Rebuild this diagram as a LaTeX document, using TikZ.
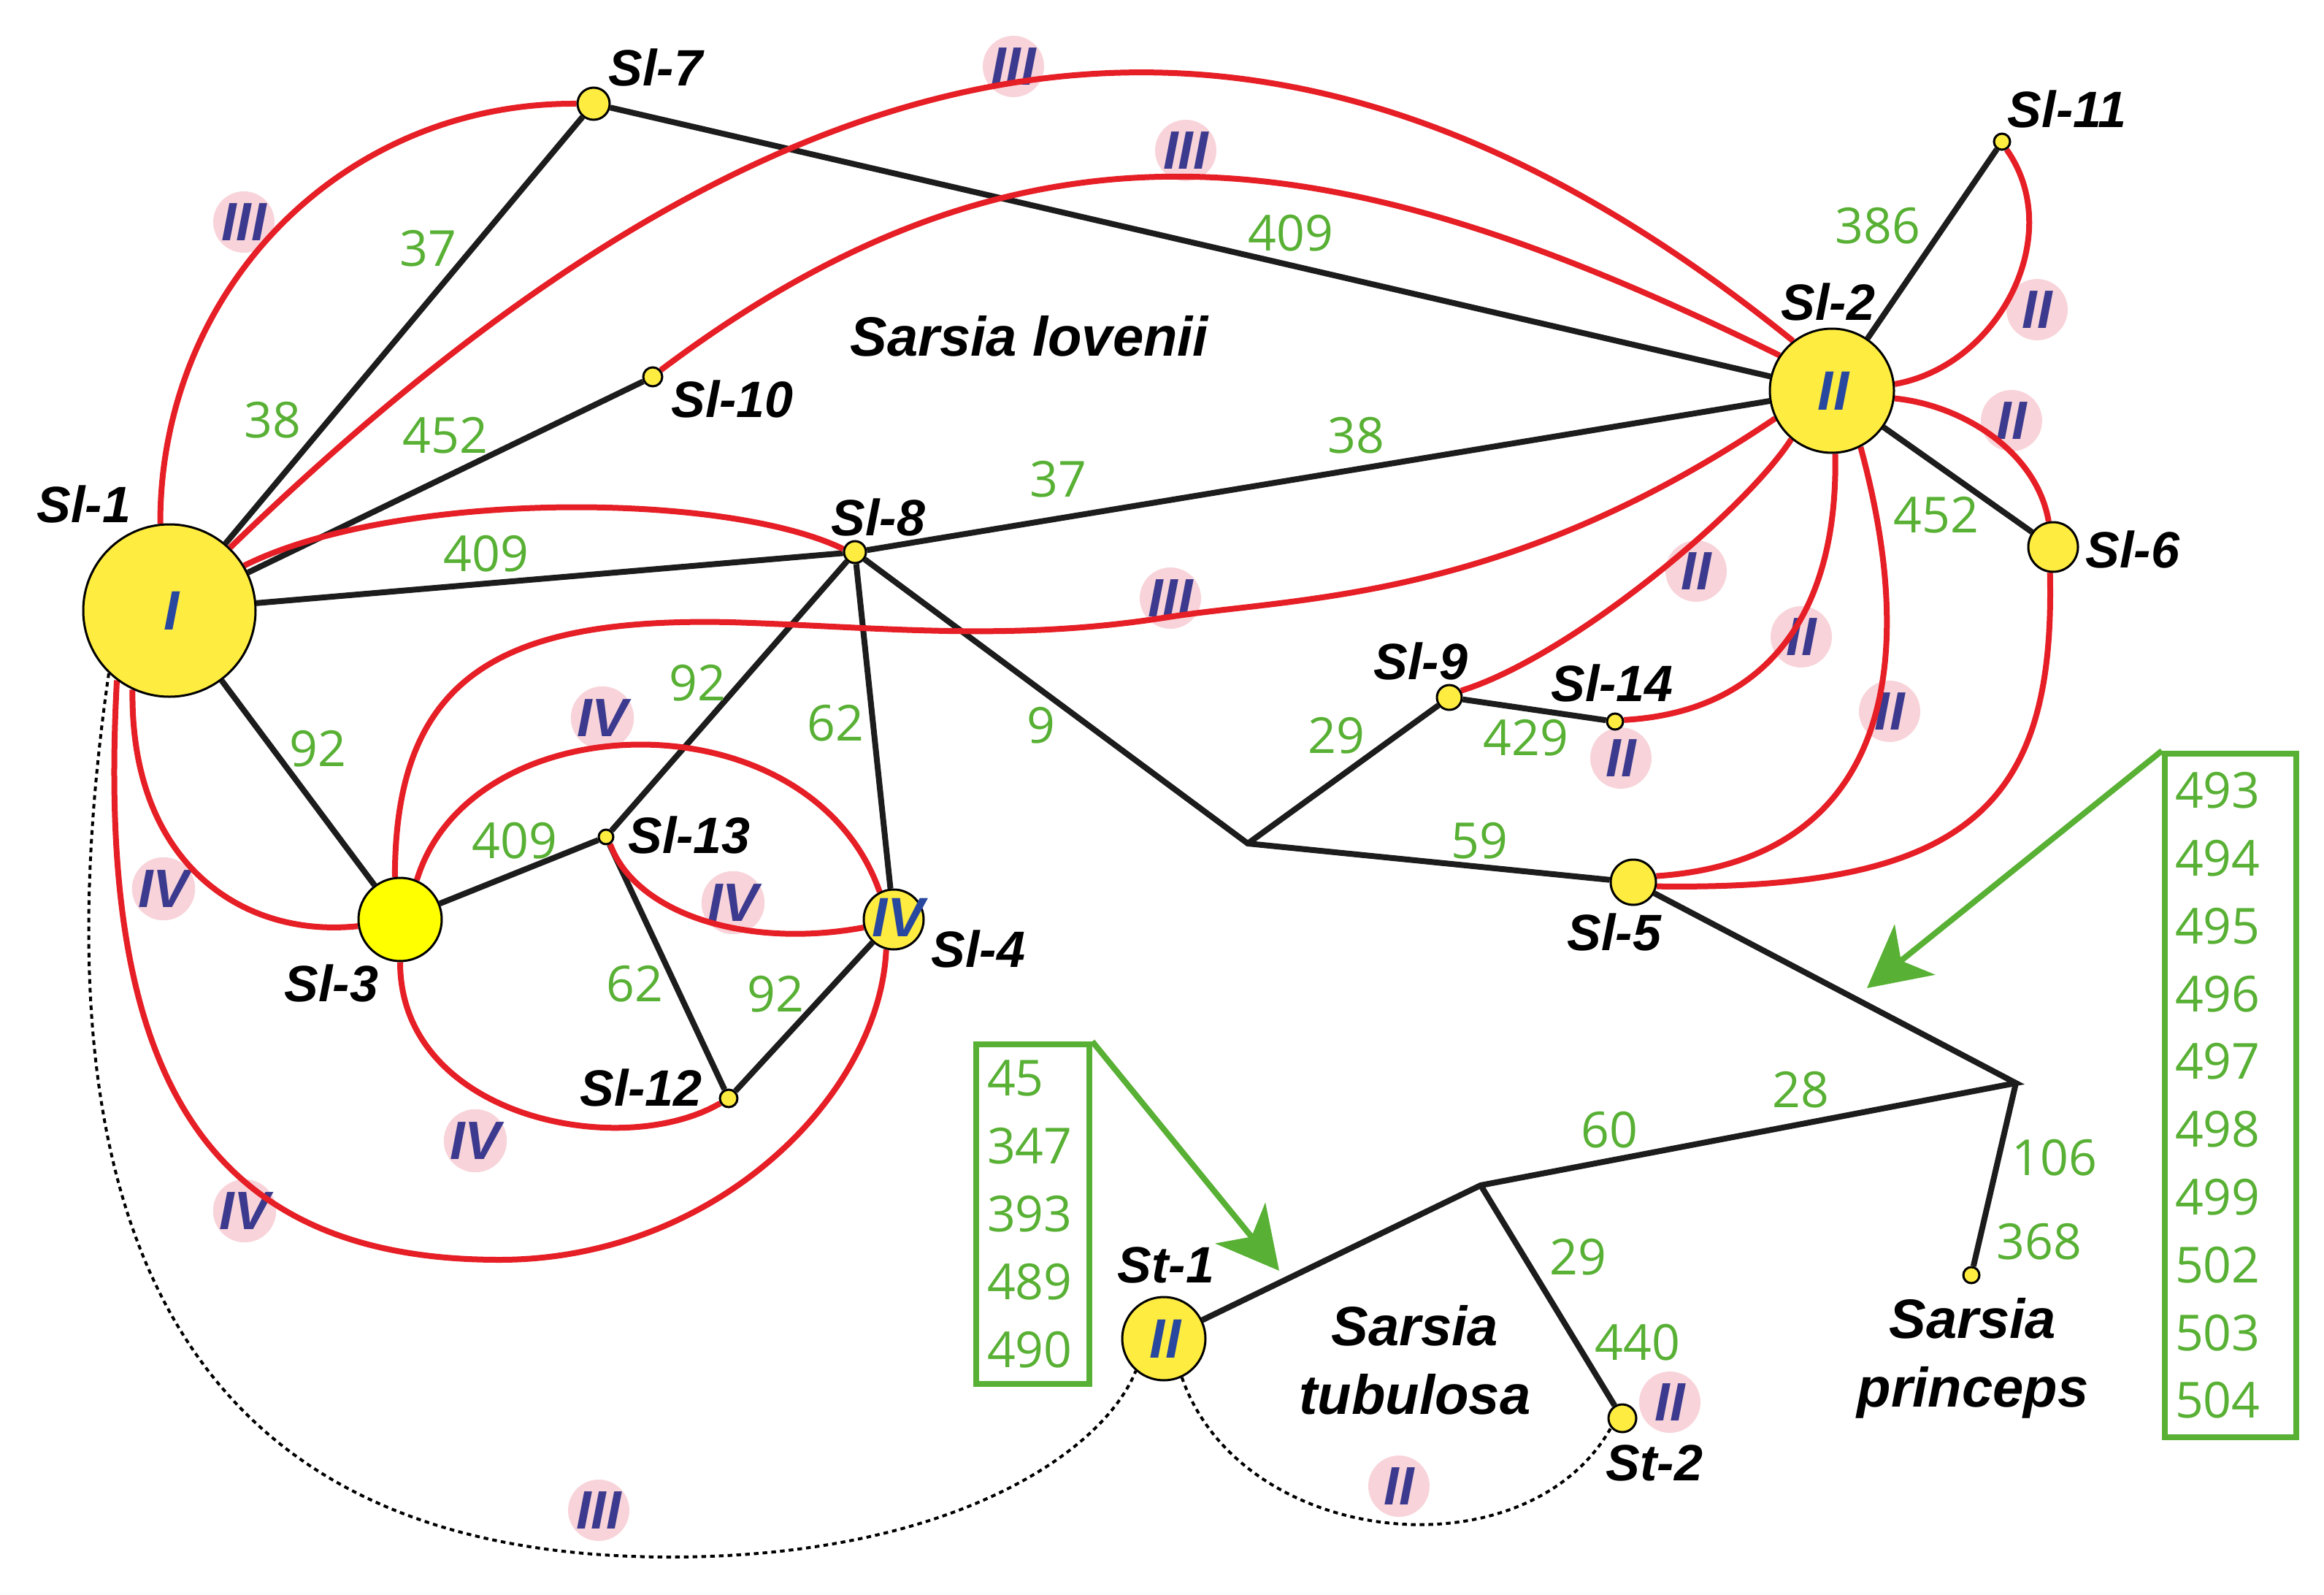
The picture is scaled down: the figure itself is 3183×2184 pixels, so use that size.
\documentclass[tikz,border=0pt]{standalone}
\usepackage{fontspec}
\setmainfont{Liberation Sans}
\newfontfamily\numfont{Open Sans}
\usetikzlibrary{arrows.meta}
\definecolor{nodeyellow}{RGB}{255,236,64}
\definecolor{brightyellow}{RGB}{255,255,0}
\definecolor{redc}{RGB}{230,30,38}
\definecolor{numgreen}{RGB}{88,176,52}
\definecolor{pinkc}{RGB}{248,212,218}
\definecolor{romblue}{RGB}{60,58,142}
\definecolor{inblue}{RGB}{40,72,160}
\definecolor{edgeblack}{RGB}{28,28,28}
\pgfdeclarelayer{pinklayer}
\pgfdeclarelayer{edgelayer}
\pgfsetlayers{pinklayer,edgelayer,main}
\begin{document}
\begin{tikzpicture}[x=0.25pt,y=-0.25pt,
  vtx/.style={circle,draw=black,line width=0.75pt,fill=nodeyellow,inner sep=0pt},
  nm/.style={font=\fontsize{17.5}{20}\selectfont\bfseries\itshape,inner sep=0pt},
  spname/.style={font=\fontsize{19}{23.5}\selectfont\bfseries\itshape,align=center,inner sep=0pt},
  num/.style={text=numgreen,font=\numfont\fontsize{17}{20}\selectfont,inner sep=0pt},
  rom/.style={circle,fill=pinkc,text=romblue,font=\fontsize{18.5}{20}\selectfont\bfseries\itshape,inner sep=0pt,minimum size=21pt},
  inrom/.style={text=inblue,font=\fontsize{19}{20}\selectfont\bfseries\itshape,inner sep=0pt},
  blk/.style={draw=edgeblack,line width=2pt,line join=miter},
  rc/.style={draw=redc,line width=2pt},
  dt/.style={draw=black,line width=1pt,dash pattern=on 1.6pt off 1.4pt},
  gbox/.style={draw=numgreen,line width=2pt,inner sep=0pt,text=numgreen,font=\numfont\fontsize{17}{23.2}\selectfont,align=left},
  garrow/.style={draw=numgreen,line width=2pt,-{Stealth[length=21pt,width=22pt,inset=6pt]}}
]
\useasboundingbox (0,0) rectangle (3183,2184);

% ---------- vertices ----------
\node[vtx,minimum size=59pt] (sl1) at (232,836) {};
\node[vtx,minimum size=42.5pt] (sl2) at (2509,535) {};
\node[vtx,minimum size=28.5pt,fill=brightyellow] (sl3) at (548,1259) {};
\node[vtx,minimum size=20.5pt] (sl4) at (1224,1259) {};
\node[vtx,minimum size=15.5pt] (sl5) at (2237,1208) {};
\node[vtx,minimum size=17pt] (sl6) at (2812,749) {};
\node[vtx,minimum size=11pt] (sl7) at (813,142) {};
\node[vtx,minimum size=7.5pt] (sl8) at (1171,756) {};
\node[vtx,minimum size=8.5pt] (sl9) at (1985,955) {};
\node[vtx,minimum size=6.5pt] (sl10) at (894,516) {};
\node[vtx,minimum size=5.5pt] (sl11) at (2742,194) {};
\node[vtx,minimum size=6pt] (sl12) at (998,1504) {};
\node[vtx,minimum size=5pt] (sl13) at (830,1146) {};
\node[vtx,minimum size=5.5pt] (sl14) at (2212,988) {};
\node[vtx,minimum size=28.5pt] (st1) at (1594,1833) {};
\node[vtx,minimum size=9.5pt] (st2) at (2222,1942) {};
\node[vtx,minimum size=5.5pt] (sp) at (2700,1746) {};
\coordinate (j1) at (1709,1155);
\coordinate (j2) at (2761,1483);
\coordinate (j3) at (2028,1623);

% numerals inside vertices
\node[inrom] (t1) at (235,836) {I};
\node[inrom] (t2) at (2511,535) {II};
\node[inrom] (t4) at (1230,1256) {IV};
\node[inrom] (t5) at (1596,1833) {II};

% ---------- connectors ----------
\begin{pgfonlayer}{edgelayer}
\draw[blk] (sl1) -- (sl7);
\draw[blk] (sl7) -- (sl2);
\draw[blk] (sl1) -- (sl10);
\draw[blk] (sl1) -- (sl8);
\draw[blk] (sl8) -- (sl2);
\draw[blk] (sl1) -- (sl3);
\draw[blk] (sl3) -- (sl13);
\draw[blk] (sl13) -- (sl8);
\draw[blk] (sl8) -- (sl4);
\draw[blk] (sl13) -- (sl12);
\draw[blk] (sl12) -- (sl4);
\draw[blk] (sl8) -- (j1) -- (sl5);
\draw[blk] (j1) -- (sl9);
\draw[blk] (sl9) -- (sl14);
\draw[blk] (sl5) -- (j2) -- (j3) -- (st1);
\draw[blk] (j3) -- (st2);
\draw[blk] (j2) -- (sp);
\draw[blk] (sl2) -- (sl11);
\draw[blk] (sl2) -- (sl6);

\draw[rc] (sl1.96) .. controls (219,395) and (470,140) .. (sl7.west);
\draw[rc] (sl1.46) .. controls (1107,-16) and (1755,-100) .. (sl2.128);
\draw[rc] (sl10.40) .. controls (1423,117) and (1849,198) .. (sl2.146);
\draw[rc] (sl1.31) .. controls (540,672) and (990,672) .. (sl8.165);
\draw[rc] (sl3.97) .. controls (541,930) and (680,845) .. (1000,852)
   .. controls (1200,858) and (1380,880) .. (1600,845)
   .. controls (1778,817) and (2060,824) .. (sl2.206);
\draw[rc] (sl1.245) .. controls (178,1180) and (330,1285) .. (sl3.189);
\draw[rc] (sl1.233) .. controls (132,1450) and (265,1725) .. (684,1725)
   .. controls (980,1725) and (1205,1500) .. (sl4.256);
\draw[rc] (sl3.67) .. controls (645,960) and (1110,950) .. (sl4.117);
\draw[rc] (sl13.300) .. controls (870,1250) and (1020,1300) .. (sl4.195);
\draw[rc] (sl3.270) .. controls (548,1530) and (850,1590) .. (sl12.210);
\draw[rc] (sl2.6) .. controls (2740,500) and (2830,320) .. (sl11.300);
\draw[rc] (sl2.353) .. controls (2690,555) and (2790,620) .. (sl6.100);
\draw[rc] (sl6.263) .. controls (2815,1100) and (2700,1220) .. (sl5.350);
\draw[rc] (sl2.297) .. controls (2640,950) and (2560,1180) .. (sl5.15);
\draw[rc] (sl2.273) .. controls (2518,840) and (2420,975) .. (sl14.10);
\draw[rc] (sl2.230) .. controls (2390,700) and (2150,900) .. (sl9.30);

\draw[dt] (sl1.226) .. controls (30,1750) and (300,2132) .. (918,2132)
   .. controls (1300,2132) and (1510,1990) .. (st1.229);
\draw[dt] (st1.295) .. controls (1700,2120) and (2090,2160) .. (st2.220);
\end{pgfonlayer}

% ---------- pink roman labels ----------
\begin{pgfonlayer}{pinklayer}
\node[rom] (p1) at (334,304) {III};
\node[rom] (p2) at (1388,91) {III};
\node[rom] (p3) at (1624,206) {III};
\node[rom] (p4) at (1603,819) {III};
\node[rom] (p5) at (2790,424) {II};
\node[rom] (p6) at (2755,576) {II};
\node[rom] (p7) at (2323,782) {II};
\node[rom] (p8) at (2467,872) {II};
\node[rom] (p9) at (2588,974) {II};
\node[rom] (p10) at (2220,1038) {II};
\node[rom] (p11) at (825,983) {IV};
\node[rom] (p12) at (1004,1236) {IV};
\node[rom] (p13) at (224,1217) {IV};
\node[rom] (p14) at (651,1562) {IV};
\node[rom] (p15) at (335,1658) {IV};
\node[rom] (p16) at (820,2068) {III};
\node[rom] (p17) at (2287,1920) {II};
\node[rom] (p18) at (1916,2035) {II};
\end{pgfonlayer}

% ---------- vertex names ----------
\node[nm] (l1) at (115,690) {Sl-1};
\node[nm] (l2) at (2504,413) {Sl-2};
\node[nm] (l3) at (454,1346) {Sl-3};
\node[nm] (l4) at (1340,1299) {Sl-4};
\node[nm] (l5) at (2211,1276) {Sl-5};
\node[nm] (l6) at (2921,752) {Sl-6};
\node[nm] (l7) at (898,92) {Sl-7};
\node[nm] (l8) at (1203,708) {Sl-8};
\node[nm] (l9) at (1946,905) {Sl-9};
\node[nm] (l10) at (1003,546) {Sl-10};
\node[nm] (l11) at (2831,149) {Sl-11};
\node[nm] (l12) at (878,1489) {Sl-12};
\node[nm] (l13) at (944,1143) {Sl-13};
\node[nm] (l14) at (2208,935) {Sl-14};
\node[nm] (ls1) at (1597,1732) {St-1};
\node[nm] (ls2) at (2266,2003) {St-2};
\node[spname] (sl) at (1410,460) {Sarsia lovenii};
\node[spname] (stub) at (1938,1862) {Sarsia\\tubulosa};
\node[spname] (spri) at (2702,1860) {Sarsia\\princeps};

% ---------- green numbers ----------
\node[num] (n1) at (586,340) {37};
\node[num] (n2) at (373,575) {38};
\node[num] (n3) at (610,596) {452};
\node[num] (n4) at (666,758) {409};
\node[num] (n5) at (1449,656) {37};
\node[num] (n6) at (1857,596) {38};
\node[num] (n7) at (1768,319) {409};
\node[num] (n8) at (2572,309) {386};
\node[num] (n9) at (2652,705) {452};
\node[num] (n10) at (435,1025) {92};
\node[num] (n11) at (955,935) {92};
\node[num] (n12) at (1144,990) {62};
\node[num] (n13) at (1426,993) {9};
\node[num] (n14) at (1830,1007) {29};
\node[num] (n15) at (2090,1010) {429};
\node[num] (n16) at (705,1151) {409};
\node[num] (n17) at (869,1347) {62};
\node[num] (n18) at (1062,1361) {92};
\node[num] (n19) at (2026,1151) {59};
\node[num] (n20) at (2466,1492) {28};
\node[num] (n21) at (2204,1547) {60};
\node[num] (n22) at (2814,1585) {106};
\node[num] (n23) at (2793,1700) {368};
\node[num] (n24) at (2161,1721) {29};
\node[num] (n25) at (2243,1838) {440};

% ---------- boxes and arrows ----------
\node[gbox,minimum width=38.75pt,minimum height=116.25pt,text width=31.25pt] (box1) at (1414.5,1662.5) {45\\347\\393\\489\\490};
\node[gbox,minimum width=45pt,minimum height=234pt,text width=38pt] (box2) at (3055,1500) {493\\494\\495\\496\\497\\498\\499\\502\\503\\504};
\coordinate (a1) at (1752,1740);
\coordinate (a2) at (2557,1353);
\draw[garrow] (box1.north east) -- (a1);
\draw[garrow] (box2.north west) -- (a2);
\end{tikzpicture}
\end{document}
